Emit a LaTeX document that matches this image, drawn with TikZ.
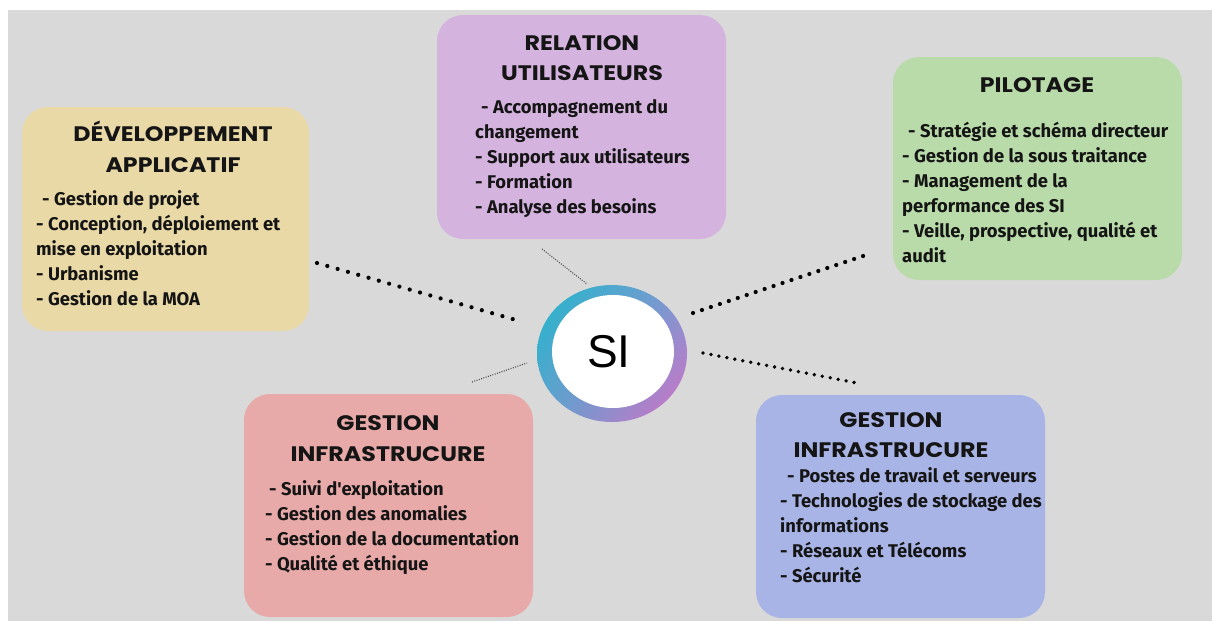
\documentclass[tikz,border=0pt]{standalone}
\usepackage{fontspec}
\setmainfont{Fira Sans}
\newfontfamily\bodyfont{Fira Sans}
\newfontfamily\headfont{Poppins}[FakeStretch=1.13]
\newfontfamily\sifont{Liberation Sans}
\usetikzlibrary{shapes.geometric,shadings}
\definecolor{bggrey}{HTML}{D9D9D9}
\definecolor{devcol}{HTML}{E9D9A7}
\definecolor{relcol}{HTML}{D5B3DF}
\definecolor{pilcol}{HTML}{B9DBA9}
\definecolor{gilcol}{HTML}{E8A9A9}
\definecolor{gircol}{HTML}{A9B4E6}
\definecolor{ringA}{HTML}{1FB8CB}
\definecolor{ringB}{HTML}{7E98D2}
\definecolor{ringC}{HTML}{5EA2CF}
\definecolor{ringD}{HTML}{D66FC6}
\definecolor{txt}{HTML}{151515}
\begin{document}
\begin{tikzpicture}[x=1pt,y=-1pt,
  box/.style={rectangle, rounded corners=26pt, inner sep=0pt,
    minimum width=289pt, minimum height=223pt},
  head/.style={anchor=base, inner sep=0pt, text=txt,
    font=\headfont\bfseries\fontsize{21}{21}\selectfont},
  body/.style={anchor=base west, inner sep=0pt, align=left, text=txt,
    font=\bodyfont\bfseries\fontsize{18.4}{25}\selectfont},
  bigdots/.style={line width=4.2pt, line cap=round, dash pattern=on 0pt off 10.715pt},
  meddots/.style={line width=3.8pt, line cap=round, dash pattern=on 0pt off 8.1pt},
  thindots/.style={line width=1.1pt, draw=black!70, dash pattern=on 1pt off 1.4pt}]
\fill[white] (0,0) rectangle (1212,621);
\useasboundingbox (0,0) rectangle (1212,621);
\fill[bggrey] (8,10) rectangle (1212,621);

% boxes
\node[box, fill=devcol, minimum width=287pt, minimum height=224pt] (dev) at (165.5,219) {};
\node[box, fill=relcol, minimum height=224pt] (rel) at (581.5,127) {};
\node[box, fill=pilcol] (pil) at (1037.5,168.5) {};
\node[box, fill=gilcol] (gil) at (388.5,505.5) {};
\node[box, fill=gircol] (gir) at (900.5,506.5) {};

% headings
\node[head] (devh1) at (173,141) {DÉVELOPPEMENT};
\node[head] (devh2) at (173,172) {APPLICATIF};
\node[head] (relh1) at (582,50) {RELATION};
\node[head] (relh2) at (582,80) {UTILISATEURS};
\node[head] (pilh1) at (1037,92) {PILOTAGE};
\node[head] (gilh1) at (388,430) {GESTION};
\node[head] (gilh2) at (388,461) {INFRASTRUCURE};
\node[head] (girh1) at (891,427) {GESTION};
\node[head] (girh2) at (891,457) {INFRASTRUCURE};

% bodies (base anchor = baseline of last line)
\node[body] (devb) at (36,305) {\hspace*{6pt}- Gestion de projet\\- Conception, déploiement et\\mise en exploitation\\- Urbanisme\\- Gestion de la MOA};
\node[body] (relb) at (475,213) {\hspace*{6pt}- Accompagnement du\\changement\\- Support aux utilisateurs\\- Formation\\- Analyse des besoins};
\node[body] (pilb) at (902,262) {\hspace*{6pt}- Stratégie et schéma directeur\\- Gestion de la sous traitance\\- Management de la\\performance des SI\\- Veille, prospective, qualité et\\audit};
\node[body] (gilb) at (265,570) {\hspace*{4pt}- Suivi d'exploitation\\- Gestion des anomalies\\- Gestion de la documentation\\- Qualité et éthique};
\node[body] (girb) at (780,582) {\hspace*{7pt}- Postes de travail et serveurs\\- Technologies de stockage des\\informations\\- Réseaux et Télécoms\\- Sécurité};

% SI circle
\node[ellipse, inner sep=0pt, minimum width=150pt, minimum height=137pt, shade,
  upper left=ringA, upper right=ringB, lower left=ringC, lower right=ringD] (si) at (612,353.5) {};
\node[ellipse, inner sep=0pt, fill=white, minimum width=122pt, minimum height=113pt] (siin) at (613,351.5) {};
\node[inner sep=0pt, text=black, font=\sifont\fontsize{46}{46}\selectfont] (silabel) at (609,351.5) {SI};

% connectors
\coordinate (c1a) at (317,263);
\coordinate (c1b) at (523,322);
\coordinate (c2a) at (693,313);
\coordinate (c2b) at (872,253);
\coordinate (c3a) at (703,353);
\coordinate (c3b) at (862,384);
\coordinate (t1a) at (542,249);
\coordinate (t1b) at (587,284);
\coordinate (t2a) at (472,382);
\coordinate (t2b) at (527,363);
\draw[bigdots] (c1a) -- (c1b);
\draw[bigdots, dash pattern=on 0pt off 9.44pt] (c2a) -- (c2b);
\draw[meddots] (c3a) -- (c3b);
\draw[thindots] (t1a) -- (t1b);
\draw[thindots] (t2a) -- (t2b);
\end{tikzpicture}
\end{document}
